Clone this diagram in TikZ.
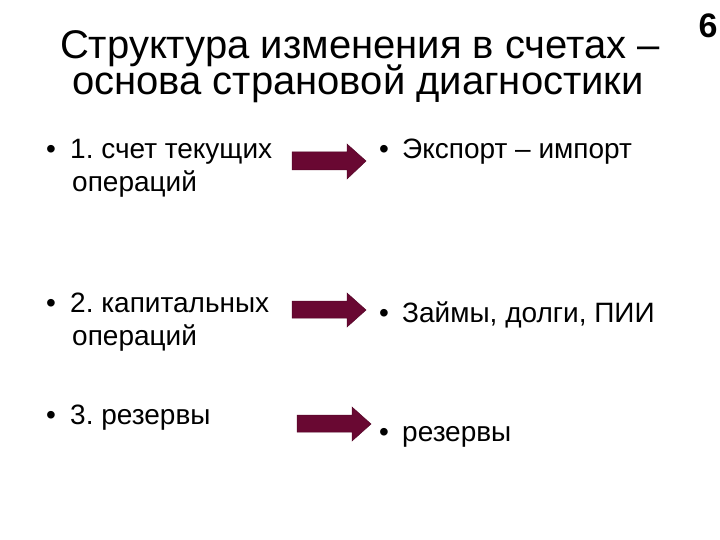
\documentclass[tikz,border=0pt]{standalone}
\usepackage{fontspec}
\setmainfont{Liberation Sans}
\definecolor{maroon}{RGB}{105,8,50}
\frenchspacing
\begin{document}
\begin{tikzpicture}[x=1pt,y=-1pt,
  title/.style={font=\fontsize{40}{44}\selectfont, anchor=base, inner sep=0pt},
  item/.style={font=\fontsize{28}{32}\selectfont, anchor=base west, inner sep=0pt},
  bul/.style={font=\fontsize{28}{32}\selectfont, anchor=base west, inner sep=0pt},
  arr/.style={fill=maroon, draw=maroon!80!black, line width=0.5pt}]
\useasboundingbox (0,0) rectangle (720,540);
\node[title] (t1) at (360,59) {Структура изменения в счетах –};
\node[title] (t2) at (358,95) {основа страновой диагностики};
\node[font=\bfseries\fontsize{34}{38}\selectfont, anchor=base, inner sep=0pt] (num) at (708,38) {6};
% left column
\node[bul] (b1) at (46,159) {•};
\node[item] (l1a) at (70,159) {1. счет текущих};
\node[item] (l1b) at (72,192) {операций};
\node[bul] (b2) at (46,312) {•};
\node[item] (l2a) at (70,312) {2. капитальных};
\node[item] (l2b) at (72,345) {операций};
\node[bul] (b3) at (46,424) {•};
\node[item] (l3) at (70,424) {3. резервы};
% right column
\node[bul] (rb1) at (379,159) {•};
\node[item] (r1) at (402,159) {Экспорт – импорт};
\node[bul] (rb2) at (379,322) {•};
\node[item] (r2) at (402,322) {Займы, долги, ПИИ};
\node[bul] (rb3) at (379,441) {•};
\node[item] (r3) at (402,441) {резервы};
% arrows
\draw[arr] (292,152) -- (347,152) -- (347,144) -- (366,161) -- (347,179) -- (347,170) -- (292,170) -- cycle;
\draw[arr] (292,301) -- (347,301) -- (347,293) -- (366,310) -- (347,327) -- (347,318) -- (292,318) -- cycle;
\draw[arr] (297,415) -- (352,415) -- (352,407) -- (371,424) -- (352,441) -- (352,432) -- (297,432) -- cycle;
\end{tikzpicture}
\end{document}
